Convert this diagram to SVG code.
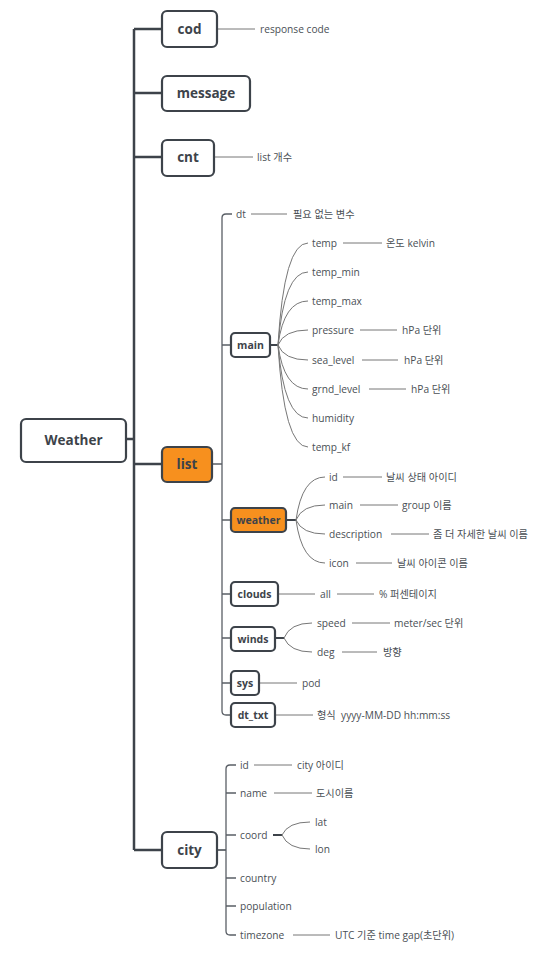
<svg xmlns="http://www.w3.org/2000/svg" width="543" height="957" viewBox="0 0 543 957">
<style>
.n{fill:#fff;stroke:#3d434a;stroke-width:2.2}
.o{fill:#f7901e;stroke:#3d434a;stroke-width:2.2}
.t1{font-family:"Open Sans","Noto Sans CJK KR",sans-serif;font-weight:bold;font-size:13.5px;fill:#3d434a;text-anchor:middle;dominant-baseline:central}
.t2{font-family:"Open Sans","Noto Sans CJK KR",sans-serif;font-weight:bold;font-size:10.5px;fill:#3d434a;text-anchor:middle;dominant-baseline:central}
.t{font-family:"Open Sans","Noto Sans CJK KR",sans-serif;font-size:10.2px;fill:#4a4f55;dominant-baseline:central}
.sp{fill:none;stroke:#3d434a;stroke-width:2.5}
.b{fill:none;stroke:#5a5f66;stroke-width:1.3}
.l{fill:none;stroke:#777;stroke-width:1}
</style>
<g id="connectors">
<path class="sp" d="M126,439H134M134,29V850M134,29H162M134,93H162M134,157H162M134,464H162M134,850H162"/>
<path class="l" d="M217,29H255M214,157H253"/>
<path class="b" d="M212,464H222M232,214H226Q222,214 222,218V711Q222,715 226,715H231M222,345H231M222,520H231M222,594H231M222,638H231M222,683H231"/>
<path class="l" d="M251,214H287"/>
<path class="sp" style="stroke-width:2" d="M270,345H278M286,520H296M275,638H284M273,835H282"/>
<path class="l" d="M278,345Q284,243 308,243M278,345Q284,272 308,272M278,345Q284,301 308,301M278,345Q284,330 308,330M278,345Q284,360 308,360M278,345Q284,389 308,389M278,345Q284,418 308,418M278,345Q284,447 308,447"/>
<path class="l" d="M343,243H382M360,330H397M362,360H398M369,389H406"/>
<path class="l" d="M296,520Q302,477 325,477M296,520Q302,505 325,505M296,520Q302,534 325,534M296,520Q302,563 325,563"/>
<path class="l" d="M343,477H382M360,505H398M391,534H429M356,563H392"/>
<path class="l" d="M278,594H315M337,594H374"/>
<path class="l" d="M284,638Q290,623 312,623M284,638Q290,652 312,652M352,623H390M342,652H377"/>
<path class="l" d="M259,683H297M275,715H313"/>
<path class="sp" style="stroke-width:1.5" d="M217,850H226"/>
<path class="b" d="M236,765H230Q226,765 226,769V931Q226,935 230,935H236M226,793H236M226,835H236M226,878H236M226,906H236"/>
<path class="l" d="M254,765H292M274,793H312M293,935H330"/>
<path class="l" d="M282,835Q288,822 310,822M282,835Q288,849 310,849"/>
</g>
<g id="weather-root"><rect class="n" x="21" y="419" width="105" height="43" rx="5"/><text class="t1" x="73.5" y="440">Weather</text></g>
<g id="cod"><rect class="n" x="162" y="11" width="55" height="36" rx="5"/><text class="t1" x="189.5" y="29">cod</text></g>
<text class="t" x="260" y="29">response code</text>
<g id="message"><rect class="n" x="162" y="76" width="88" height="35" rx="5"/><text class="t1" x="206" y="93">message</text></g>
<g id="cnt"><rect class="n" x="162" y="140" width="52" height="36" rx="5"/><text class="t1" x="188" y="157">cnt</text></g>
<text class="t" x="257" y="157">list 개수</text>
<g id="list"><rect class="o" x="162" y="447" width="50" height="35" rx="5"/><text class="t1" x="187" y="464">list</text></g>
<g id="city"><rect class="n" x="162" y="832" width="55" height="36" rx="5"/><text class="t1" x="189.5" y="850">city</text></g>
<g id="list-children">
<text class="t" x="236" y="214">dt</text><text class="t" x="293" y="214">필요 없는 변수</text>
<g id="main"><rect class="n" x="231" y="333" width="39" height="24" rx="4"/><text class="t2" x="250.5" y="345">main</text></g>
<text class="t" x="312" y="243">temp</text><text class="t" x="386" y="243">온도 kelvin</text>
<text class="t" x="312" y="272">temp_min</text>
<text class="t" x="312" y="301">temp_max</text>
<text class="t" x="312" y="330">pressure</text><text class="t" x="402" y="330">hPa 단위</text>
<text class="t" x="312" y="360">sea_level</text><text class="t" x="404" y="360">hPa 단위</text>
<text class="t" x="312" y="389">grnd_level</text><text class="t" x="411" y="389">hPa 단위</text>
<text class="t" x="312" y="418">humidity</text>
<text class="t" x="312" y="447">temp_kf</text>
<g id="weather"><rect class="o" x="231" y="508" width="55" height="24" rx="4"/><text class="t2" x="258.5" y="520">weather</text></g>
<text class="t" x="329" y="477">id</text><text class="t" x="386" y="477">날씨 상태 아이디</text>
<text class="t" x="329" y="505">main</text><text class="t" x="402" y="505">group 이름</text>
<text class="t" x="329" y="534">description</text><text class="t" x="433" y="534">좀 더 자세한 날씨 이름</text>
<text class="t" x="329" y="563">icon</text><text class="t" x="397" y="563">날씨 아이콘 이름</text>
<g id="clouds"><rect class="n" x="231" y="582" width="47" height="24" rx="4"/><text class="t2" x="254.5" y="594">clouds</text></g>
<text class="t" x="320" y="594">all</text><text class="t" x="379" y="594">% 퍼센테이지</text>
<g id="winds"><rect class="n" x="231" y="627" width="44" height="24" rx="4"/><text class="t2" x="253" y="639">winds</text></g>
<text class="t" x="317" y="623">speed</text><text class="t" x="394" y="623">meter/sec 단위</text>
<text class="t" x="317" y="652">deg</text><text class="t" x="383" y="652">방향</text>
<g id="sys"><rect class="n" x="231" y="671" width="28" height="24" rx="4"/><text class="t2" x="245" y="683">sys</text></g>
<text class="t" x="302" y="683">pod</text>
<g id="dt_txt"><rect class="n" x="231" y="703" width="44" height="24" rx="4"/><text class="t2" x="253" y="715">dt_txt</text></g>
<text class="t" x="317" y="715" xml:space="preserve">형식  yyyy-MM-DD hh:mm:ss</text>
</g>
<g id="city-children">
<text class="t" x="240" y="765">id</text><text class="t" x="297" y="765">city 아이디</text>
<text class="t" x="240" y="793">name</text><text class="t" x="316" y="793">도시이름</text>
<text class="t" x="240" y="835">coord</text>
<text class="t" x="315" y="822">lat</text>
<text class="t" x="315" y="849">lon</text>
<text class="t" x="240" y="878">country</text>
<text class="t" x="240" y="906">population</text>
<text class="t" x="240" y="935">timezone</text><text class="t" x="335" y="935">UTC 기준 time gap(초단위)</text>
</g>
</svg>
